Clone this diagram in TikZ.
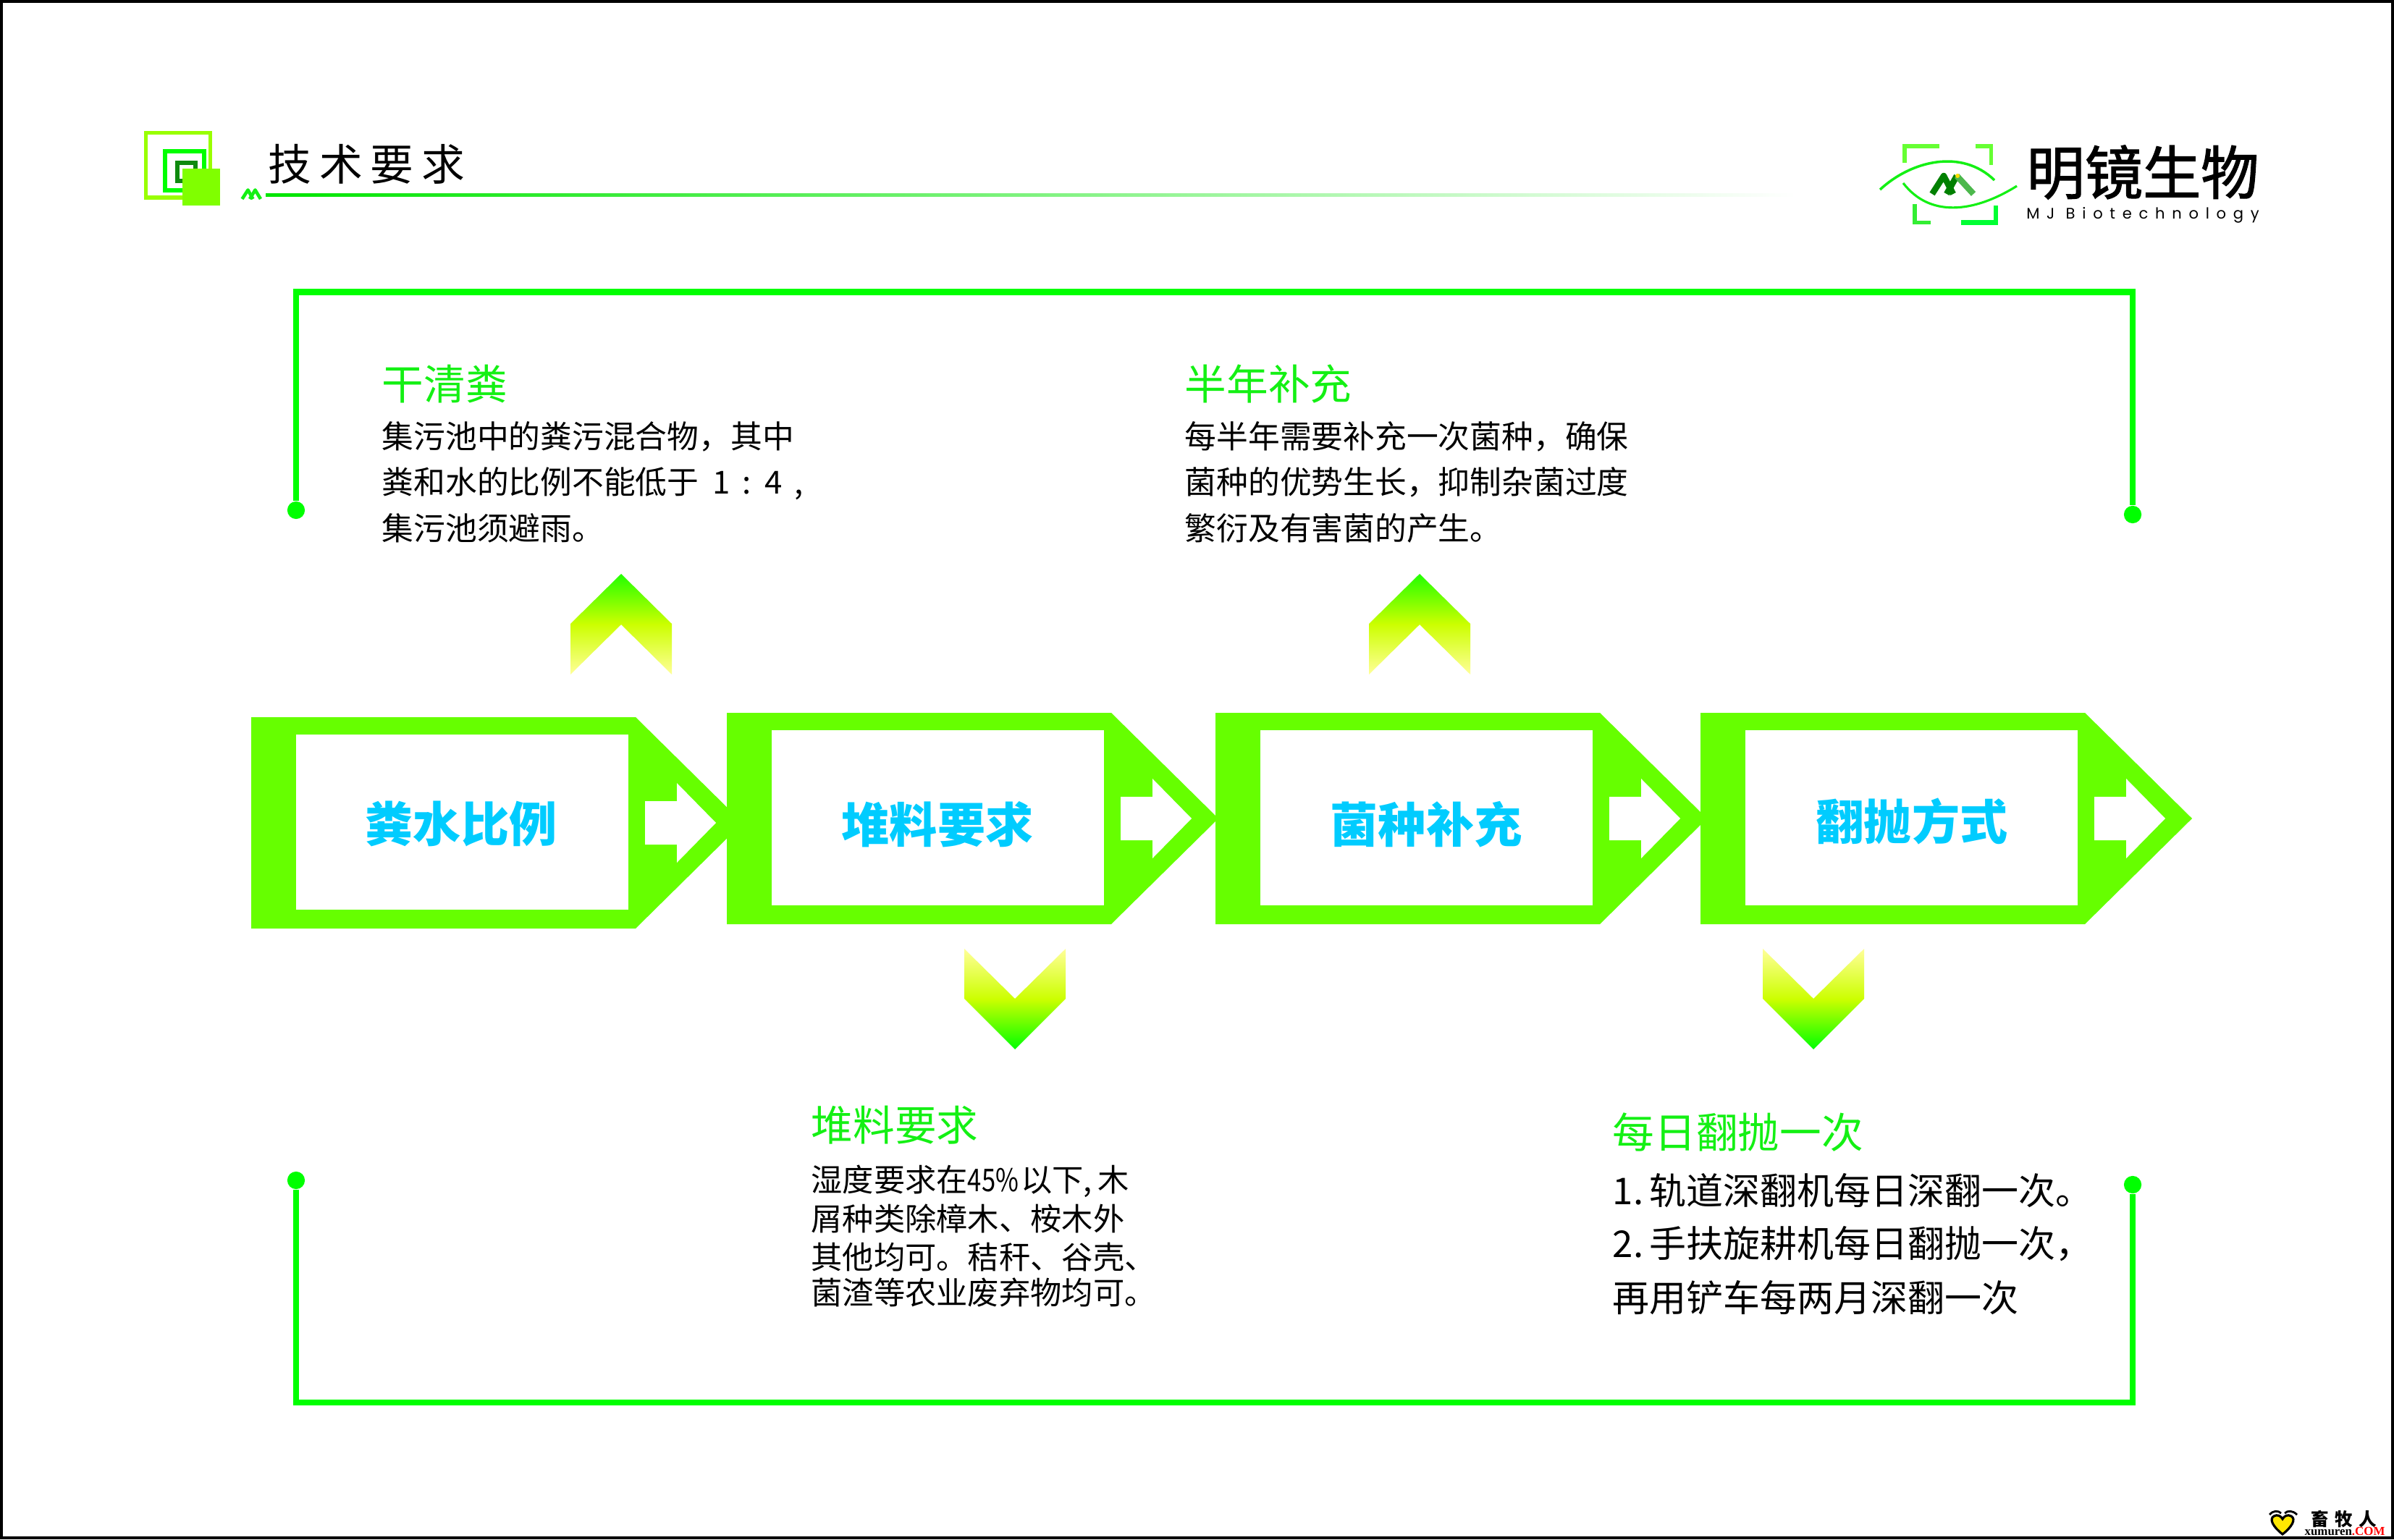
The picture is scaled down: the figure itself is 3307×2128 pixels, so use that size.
\documentclass[tikz,border=0pt]{standalone}
\usepackage{fontspec}
\setmainfont{Noto Sans CJK SC}
\newfontfamily\cjkwide[LetterSpace=18]{Noto Sans CJK SC}
\newfontfamily\logocjk[FakeBold=1.6]{Noto Sans CJK SC}
\newfontfamily\logolatin[LetterSpace=46]{Poppins}
\newfontfamily\markserif{Liberation Serif}
\usetikzlibrary{positioning}
\definecolor{tagGreen}{HTML}{66FF00}
\definecolor{titleGreen}{HTML}{14F014}
\definecolor{frameGreen}{HTML}{00FF00}
\definecolor{labelCyan}{HTML}{00CCFF}
\definecolor{squareLime}{HTML}{99FF00}
\definecolor{squareDark}{HTML}{0F8A0F}
\definecolor{squareFill}{HTML}{80FF00}
\definecolor{chevTop}{HTML}{22FF00}
\definecolor{chevMid}{HTML}{CCFF00}
\definecolor{chevEnd}{HTML}{FFFF99}
\tikzset{
  headtext/.style={anchor=west,inner sep=0pt,font=\fontsize{16.4pt}{18pt}\selectfont,text=titleGreen},
  bodytext/.style={anchor=west,inner sep=0pt,font=\fontsize{12.45pt}{15pt}\selectfont},
  bodysmall/.style={bodytext,font=\fontsize{12.3pt}{14pt}\selectfont},
  bodylarge/.style={bodytext,font=\fontsize{14.5pt}{16pt}\selectfont},
  tagtext/.style={inner sep=0pt,font=\fontsize{18.8pt}{20pt}\selectfont\bfseries,text=labelCyan},
  enddot/.style={circle,fill=frameGreen,inner sep=0pt,minimum size=6.9pt},
  frameline/.style={frameGreen,line width=2.28pt},
}
\begin{document}
\begin{tikzpicture}[x=0.01cm,y=-0.01cm]
\useasboundingbox (0,0) rectangle (3307,2128);
\fill [white] (0,0) rectangle (3307,2128);
\draw [black,line width=1pt] (2,2) rectangle (3305,2125);
% header, left
\draw [squareLime,line width=1.7pt] (201.5,183.5) rectangle (290.5,273);
\draw [green,line width=1.6pt] (228,209) rectangle (282,263);
\draw [squareDark,line width=1.5pt] (245,225) rectangle (270,250);
\fill [squareFill] (252,233) rectangle (303.5,284);
\node (titlemain) at (370,227) [anchor=west,inner sep=0pt,font=\fontsize{17pt}{19pt}\cjkwide] {技术要求};
\draw [titleGreen,line width=1.3pt,line join=round] (334.5,275) -- (342.5,262.5) -- (349.5,275);
\draw [titleGreen,line width=1.3pt,line join=round] (345,275) -- (352.5,262.5) -- (360,275);
\shade [left color=green!90!black,right color=white] (367,268) rectangle (2480,272);
% header, right
\draw [color={rgb,255:red,102;green,255;blue,51},line width=1.8pt] (2679,202) -- (2631,202) -- (2631,225);
\draw [color={rgb,255:red,102;green,255;blue,51},line width=1.5pt] (2729,202) -- (2750.5,202) -- (2750.5,228);
\draw [color={rgb,255:red,51;green,238;blue,51},line width=1.6pt] (2645,282) -- (2645,307.5) -- (2667,307.5);
\draw [color={rgb,255:red,0;green,255;blue,51},line width=1.9pt] (2709,307.5) -- (2757,307.5) -- (2757,284);
\draw [titleGreen,line width=1pt] (2597,262) .. controls (2640,222) and (2710,205) .. (2755,249);
\draw [titleGreen,line width=.9pt] (2629,253) .. controls (2665,300) and (2725,295) .. (2786,257);
\draw [green!50!black,line width=2.4pt,line join=round] (2669,268) -- (2685,243) -- (2698,268);
\draw [green!50!black,line width=2.4pt,line join=round] (2689,268) -- (2703,243);
\draw [green!60!black!70,line width=2.4pt,line join=round] (2703,243) -- (2726,268);
\fill [yellow!80!orange] (2704,243) circle (3);
\node (logoname) at (2960,238) [inner sep=0pt,font=\fontsize{22.8pt}{24pt}\logocjk] {明镜生物};
\node (logolatin) at (2960,297) [inner sep=0pt,font=\fontsize{6pt}{7pt}\logolatin] {MJ Biotechnology};
% frames
\node (dotTL) at (409,705) [enddot] {};
\node (dotTR) at (2946,711) [enddot] {};
\node (dotBL) at (409,1631) [enddot] {};
\node (dotBR) at (2946,1637) [enddot] {};
\coordinate (cornerTL) at (409,403.5);
\coordinate (cornerTR) at (2946,403.5);
\coordinate (cornerBL) at (409,1938);
\coordinate (cornerBR) at (2946,1938);
\draw [frameline] (dotTL) -- (cornerTL) -- (cornerTR) -- (dotTR);
\draw [frameline] (dotBL) -- (cornerBL) -- (cornerBR) -- (dotBR);
% tags
\foreach \tagx/\tagy in {347/1137,1004/1131,1679/1131,2349/1131} {
  \begin{scope}[shift={(\tagx,\tagy)}]
    \fill [tagGreen] (0,-146) -- (531,-146) -- (679,0) -- (531,146) -- (0,146) -- cycle;
    \fill [white] (62,-122) rectangle (521,120);
    \fill [white] (544,-30) -- (588,-30) -- (588,-55) -- (642,0) -- (588,55) -- (588,30) -- (544,30) -- cycle;
  \end{scope}
}
\node (tagone) at (637,1138) [tagtext] {粪水比例};
\node (tagtwo) at (1295,1139) [tagtext] {堆料要求};
\node (tagthree) at (1970,1139) [tagtext] {菌种补充};
\node (tagfour) at (2641,1135) [tagtext] {翻抛方式};
% chevrons
\foreach \chevx in {858,1961} {
  \shade [top color=chevTop,bottom color=chevEnd,middle color=chevMid]
    (\chevx,793) -- (\chevx+70,862) -- (\chevx+70,932) -- (\chevx,863) -- (\chevx-70,932) -- (\chevx-70,862) -- cycle;
}
\foreach \chevx in {1402,2505} {
  \shade [bottom color=green,top color=chevEnd,middle color=chevMid]
    (\chevx,1450) -- (\chevx+70,1380) -- (\chevx+70,1311) -- (\chevx,1380) -- (\chevx-70,1311) -- (\chevx-70,1380) -- cycle;
}
% texts
\node (headone) at (527,531) [headtext] {干清粪};
\node (bodyonea) at (527,603) [bodytext] {集污池中的粪污混合物，其中};
\node (bodyoneb) at (527,668) [bodytext] {粪和水的比例不能低于\hspace{.19cm}1\hspace{.17cm}:\hspace{.18cm}4\hspace{.17cm},};
\node (bodyonec) at (527,730) [bodytext] {集污池须避雨。};
\node (headtwo) at (1636,531) [headtext] {半年补充};
\node (bodytwoa) at (1636,603) [bodytext] {每半年需要补充一次菌种，确保};
\node (bodytwob) at (1636,666) [bodytext] {菌种的优势生长，抑制杂菌过度};
\node (bodytwoc) at (1636,730) [bodytext] {繁衍及有害菌的产生。};
\node (headthree) at (1120,1555) [headtext] {堆料要求};
\node (bodythreea) at (1120,1632) [bodysmall] {湿度要求在\scalebox{.8}[1]{45\%}\hspace{.03cm}以下,\hspace{.08cm}木};
\node (bodythreeb) at (1120,1684) [bodysmall] {屑种类除樟木、桉木外};
\node (bodythreec) at (1120,1737) [bodysmall] {其他均可。秸秆、谷壳、};
\node (bodythreed) at (1120,1786) [bodysmall] {菌渣等农业废弃物均可。};
\node (headfour) at (2227,1565) [headtext] {每日翻抛一次};
\node (bodyfoura) at (2227,1645) [bodylarge] {1.\hspace{.08cm}轨道深翻机每日深翻一次。};
\node (bodyfourb) at (2227,1719) [bodylarge] {2.\hspace{.08cm}手扶旋耕机每日翻抛一次，};
\node (bodyfourc) at (2227,1793) [bodylarge] {再用铲车每两月深翻一次};
% corner mark
\draw [black,fill=yellow!90!orange,line width=.9pt] (3153,2120) .. controls (3140,2110) and (3134,2099) .. (3141,2095) .. controls (3146,2092) and (3151,2095) .. (3153,2099) .. controls (3155,2095) and (3160,2092) .. (3165,2095) .. controls (3172,2099) and (3166,2110) .. (3153,2120) -- cycle;
\draw [black,line width=.8pt] (3135,2093) .. controls (3140,2087) and (3147,2087) .. (3151,2091);
\draw [black,line width=.8pt] (3156,2091) .. controls (3160,2087) and (3167,2087) .. (3173,2093);
\node (markcn) at (3238,2099) [inner sep=0pt,font=\fontsize{7pt}{8pt}\selectfont\bfseries] {畜\,\,牧\,\,人};
\node (markla) at (3239,2116) [inner sep=0pt,font=\fontsize{4.8pt}{6pt}\markserif\bfseries] {xumuren\textcolor{red}{.COM}};
\end{tikzpicture}
\end{document}
